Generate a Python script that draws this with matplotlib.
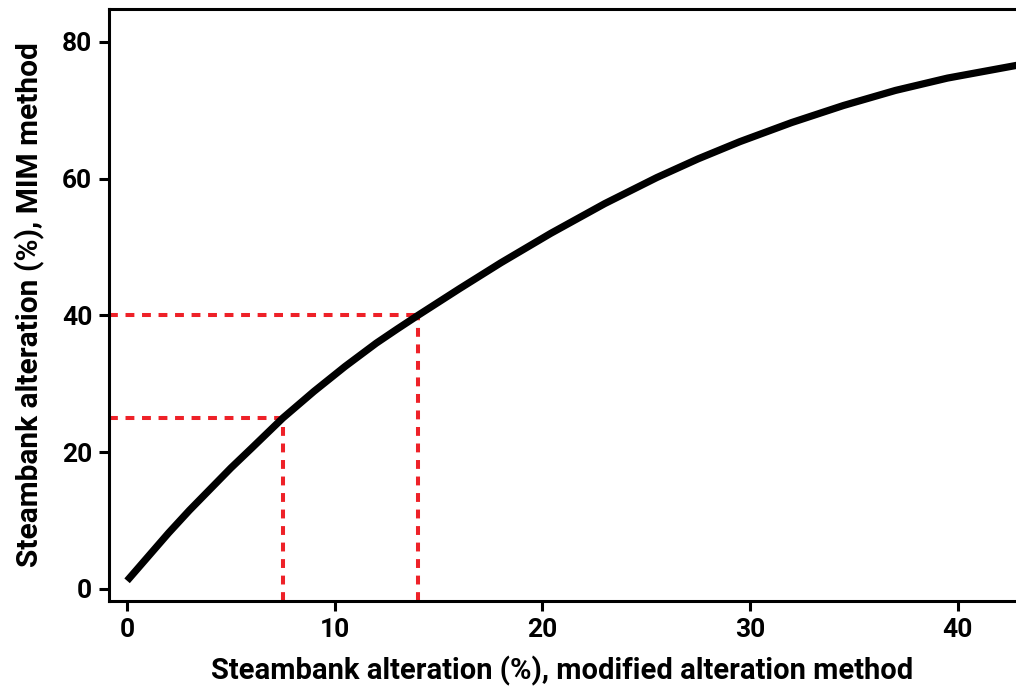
import matplotlib.pyplot as plt

plt.rcParams['font.family'] = ['Roboto', 'DejaVu Sans']
plt.rcParams['font.weight'] = 'bold'

# curve (modified method vs MIM method)
mod_pct = [0, 1, 2, 3, 4, 5, 6, 7.5, 9, 10.5, 12, 13, 14,
           16, 18, 20.4, 23, 25.5, 27.5, 29.5, 32, 34.5, 37, 39.5, 42.9]
mim_pct = [1.2, 4.7, 8.2, 11.5, 14.6, 17.7, 20.6, 25.0, 28.9, 32.55, 35.95, 38.0, 40.0,
           43.9, 47.7, 52.0, 56.35, 60.15, 62.9, 65.4, 68.2, 70.7, 72.9, 74.7, 76.6]

# highlighted readings
ref_x = [7.5, 14.0]
ref_y = [25, 40]

xticks = [0, 10, 20, 30, 40]
yticks = [0, 20, 40, 60, 80]

fig = plt.figure(figsize=(10.16, 6.88), dpi=100)
ax = fig.add_axes([0.1073, 0.1265, 0.8927, 0.8604])

xmin, xmax = -0.87, 42.8
ymin, ymax = -1.75, 84.8

red = '#ee2128'
for rx, ry in zip(ref_x, ref_y):
    ax.plot([xmin, rx], [ry, ry], color=red, lw=2.9, dashes=(2.2, 1.9), zorder=2)
    ax.plot([rx, rx], [ymin, ry], color=red, lw=2.9, dashes=(2.2, 1.9), zorder=2)

ax.plot(mod_pct, mim_pct, color='black', lw=5.2, solid_capstyle='butt',
        solid_joinstyle='round', zorder=3)

ax.set_xlim(xmin, xmax)
ax.set_ylim(ymin, ymax)
ax.set_xticks(xticks)
ax.set_yticks(yticks)

ax.spines['right'].set_visible(False)
for s in ['left', 'bottom', 'top']:
    ax.spines[s].set_linewidth(2.2)

ax.tick_params(axis='both', length=7, width=2.2, labelsize=19, pad=5)
for lab in ax.get_xticklabels() + ax.get_yticklabels():
    lab.set_fontweight('bold')

ax.set_xlabel('Steambank alteration (%), modified alteration method',
              fontsize=21, fontweight='bold', labelpad=10)
ax.set_ylabel('Steambank alteration (%), MIM method',
              fontsize=21.5, fontweight='bold', labelpad=12)

fig.savefig('out.png', dpi=100)
